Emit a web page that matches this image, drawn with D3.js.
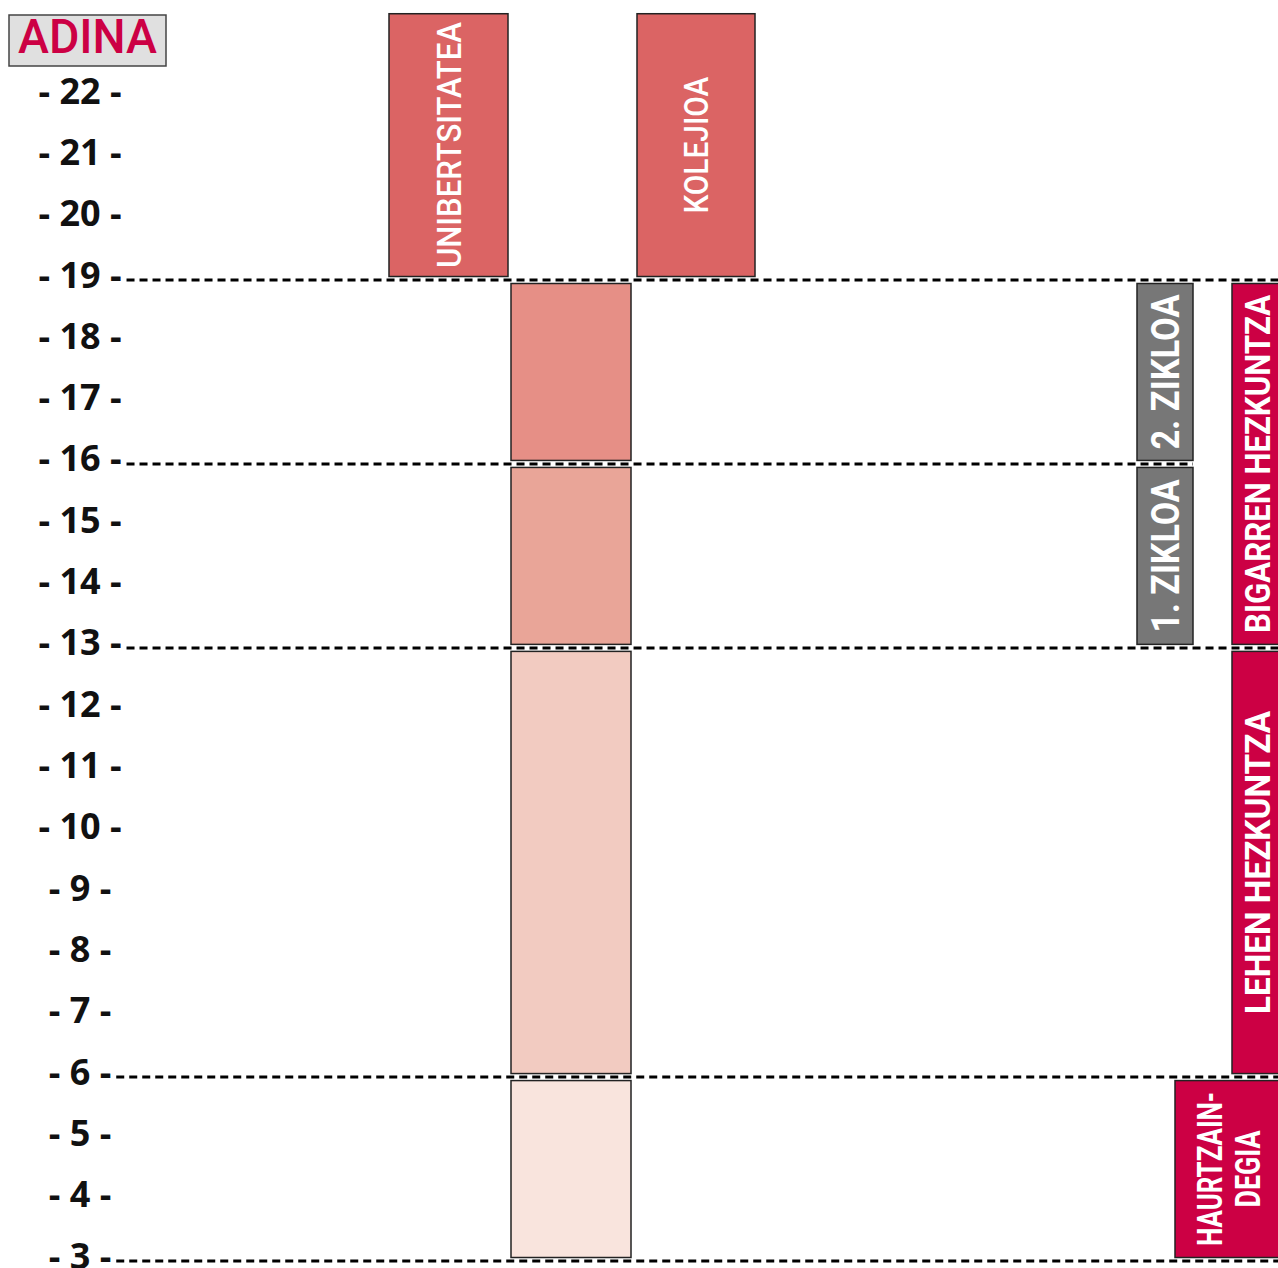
<!DOCTYPE html>
<html>
<head>
<meta charset="utf-8">
<script src="https://cdn.jsdelivr.net/npm/d3@7"></script>
<style>
  body { margin: 0; background: #fff; }
  svg { display: block; }
</style>
</head>
<body>
<svg id="chart" width="1278" height="1268"></svg>
<script>
// ages shown on the left
var ageTicks = [22, 21, 20, 19, 18, 17, 16, 15, 14, 13, 12, 11, 10, 9, 8, 7, 6, 5, 4, 3];
// ages where a dashed line splits the stages
var stageBreaks = [19, 16, 13, 6, 3];

// after 19
var upperLabels = ["UNIBERTSITATEA", "KOLEJIOA"];
var upperFrom = [19, 19];
var upperTo = [23.4, 23.4];

// middle column, one block per stage
var gradeFrom = [16, 13, 6, 3];
var gradeTo = [19, 16, 13, 6];

// secondary school cycles
var cycleLabels = ["2. ZIKLOA", "1. ZIKLOA"];
var cycleFrom = [16, 13];
var cycleTo = [19, 16];

// school stages
var stageLabels = [["BIGARREN HEZKUNTZA"], ["LEHEN HEZKUNTZA"], ["HAURTZAIN-", "DEGIA"]];
var stageFrom = [13, 6, 3];
var stageTo = [19, 13, 6];

var width = 1278, height = 1268;
var svg = d3.select("#chart");

var y = d3.scaleLinear().domain([3, 19]).range([1261, 280]);

// column placement: [left, width]
var column = d3.scaleOrdinal()
    .domain(["uni", "mid", "kol", "ziklo", "haur", "etapa"])
    .range([[389, 119], [511, 120], [637, 118], [1137, 56], [1175, 106], [1232, 50]]);

var gradeColors = ["#e68f86", "#e9a598", "#f2cbc1", "#f9e4dd"];
var textLen = {
  "UNIBERTSITATEA": 246, "KOLEJIOA": 137,
  "2. ZIKLOA": 155, "1. ZIKLOA": 153,
  "BIGARREN HEZKUNTZA": 338, "LEHEN HEZKUNTZA": 303,
  "HAURTZAIN-": 154, "DEGIA": 77
};

var bars = [];
upperLabels.forEach(function(l, i) {
  bars.push({ col: i == 0 ? "uni" : "kol", from: upperFrom[i], to: upperTo[i], fill: "#db6464",
              lines: [l], size: 34, weight: 500 });
});
gradeFrom.forEach(function(f, i) {
  bars.push({ col: "mid", from: f, to: gradeTo[i], fill: gradeColors[i], lines: [] });
});
cycleLabels.forEach(function(l, i) {
  bars.push({ col: "ziklo", from: cycleFrom[i], to: cycleTo[i], fill: "#777777",
              lines: [l], size: 38, weight: 700 });
});
stageLabels.forEach(function(l, i) {
  bars.push({ col: i == 2 ? "haur" : "etapa", from: stageFrom[i], to: stageTo[i], fill: "#cc0044",
              lines: l, size: 35, weight: 700 });
});

// ADINA title box
svg.append("rect")
    .attr("x", 9).attr("y", 15).attr("width", 157).attr("height", 51)
    .attr("fill", "#e0e0e0").attr("stroke", "#444").attr("stroke-width", 1.5);
svg.append("text")
    .attr("x", 87.5).attr("y", 53)
    .attr("text-anchor", "middle")
    .attr("font-family", "Roboto").attr("font-weight", 500).attr("font-size", 48)
    .attr("fill", "#cc0044")
    .attr("textLength", 139).attr("lengthAdjust", "spacingAndGlyphs")
    .text("ADINA");

// age axis
var axis = svg.append("g")
    .attr("transform", "translate(80,0)")
    .call(d3.axisLeft(y).tickValues(ageTicks).tickSize(0).tickPadding(0)
      .tickFormat(function(d) { return "- " + d + " -"; }));
axis.select(".domain").remove();
axis.selectAll("text")
    .attr("x", 0).attr("y", 7).attr("dy", null)
    .attr("text-anchor", "middle")
    .attr("font-family", "Open Sans").attr("font-weight", 700).attr("font-size", 36)
    .attr("fill", "#111");

// dashed lines start right after the label
var labelEnd = {};
axis.selectAll(".tick text").each(function(d) {
  labelEnd[d] = 80 + this.getComputedTextLength() / 2;
});
var zikloRight = column("ziklo")[0] + column("ziklo")[1];

svg.append("g").selectAll("line")
  .data(stageBreaks)
  .enter()
  .append("line")
    .attr("x1", function(d) { return labelEnd[d] + 5; })
    .attr("x2", function(d) { return d == 16 ? zikloRight : width; })
    .attr("y1", function(d) { return Math.round(y(d)); })
    .attr("y2", function(d) { return Math.round(y(d)); })
    .attr("stroke", "#000").attr("stroke-width", 3)
    .attr("stroke-dasharray", "8,5");

var pad = 3.5;
var bar = svg.append("g").selectAll(".bar")
  .data(bars)
  .enter()
  .append("g")
    .attr("class", "bar");

bar.append("rect")
    .attr("x", function(d) { return column(d.col)[0]; })
    .attr("width", function(d) { return column(d.col)[1]; })
    .attr("y", function(d) { return y(d.to) + pad; })
    .attr("height", function(d) { return y(d.from) - y(d.to) - 2 * pad; })
    .attr("fill", function(d) { return d.fill; })
    .attr("stroke", "#222").attr("stroke-width", 1.5);

bar.each(function(d) {
  var g = d3.select(this);
  var c = column(d.col);
  var cy = (y(d.to) + y(d.from)) / 2;
  var n = d.lines.length;
  d.lines.forEach(function(line, i) {
    var cx = c[0] + c[1] / 2 + (i - (n - 1) / 2) * 38;
    g.append("text")
        .attr("transform", "translate(" + cx + "," + cy + ") rotate(-90)")
        .attr("text-anchor", "middle")
        .attr("dy", "0.36em")
        .attr("font-family", "Roboto").attr("font-weight", d.weight).attr("font-size", d.size)
        .attr("fill", "#fff")
        .attr("textLength", textLen[line]).attr("lengthAdjust", "spacingAndGlyphs")
        .text(line);
  });
});
</script>
</body>
</html>
